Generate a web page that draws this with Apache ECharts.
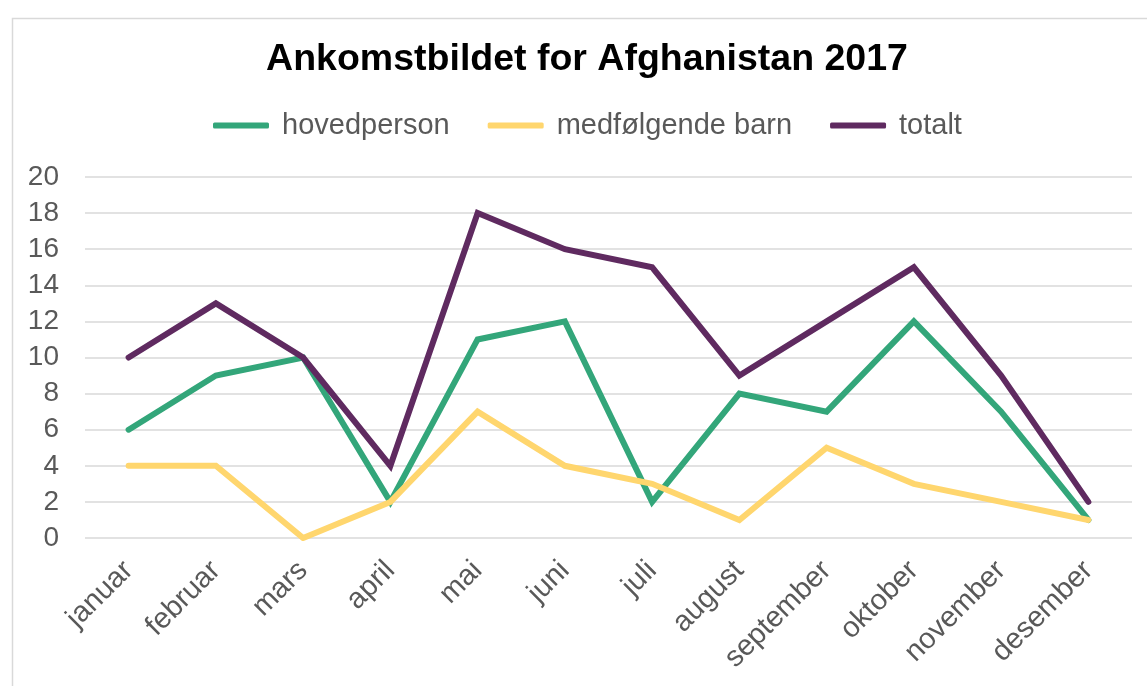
<!DOCTYPE html>
<html>
<head>
<meta charset="utf-8">
<script src="https://cdn.jsdelivr.net/npm/echarts@6/dist/echarts.min.js"></script>
<style>
html,body{margin:0;padding:0;background:#fff;}
#chart{width:1147px;height:686px;}
</style>
</head>
<body>
<div id="chart"></div>
<script>
var categories = ['januar','februar','mars','april','mai','juni','juli','august','september','oktober','november','desember'];
var hovedperson = [6, 9, 10, 2, 11, 12, 2, 8, 7, 12, 7, 1];
var medfolgendeBarn = [4, 4, 0, 2, 7, 4, 3, 1, 5, 3, 2, 1];
var totalt = [10, 13, 10, 4, 18, 16, 15, 9, 12, 15, 9, 2];
var seriesNames = ['hovedperson', 'medfølgende barn', 'totalt'];
var yTicks = {min: 0, max: 20, interval: 2};

var colors = ['#33a67a', '#ffd66e', '#5f2a60'];
var font = 'Liberation Sans, Arial, sans-serif';
var chart = echarts.init(document.getElementById('chart'), null, {renderer: 'canvas'});
function mk(name, data, i) {
  return {
    name: name, type: 'line', data: data, symbol: 'none',
    lineStyle: {width: 6, color: colors[i], cap: 'round', join: 'miter'},
    itemStyle: {color: colors[i]}
  };
}
chart.setOption({
  animation: false,
  color: colors,
  graphic: [{
    type: 'rect', left: 10, top: 16, silent: true,
    shape: {width: 1200, height: 700},
    style: {fill: 'none', stroke: '#d9d9d9', lineWidth: 1.5}
  }],
  title: {
    text: 'Ankomstbildet for Afghanistan 2017',
    left: 582, top: 36, textAlign: 'center',
    textStyle: {fontFamily: font, fontSize: 37.5, fontWeight: 'bold', color: '#000'}
  },
  legend: {
    data: seriesNames.map(function (n) { return {name: n, icon: 'roundRect'}; }),
    left: 213, top: 111, padding: 0,
    itemWidth: 56, itemHeight: 6, itemGap: 38,
    textStyle: {fontFamily: font, fontSize: 29, color: '#595959', padding: [0,0,0,8]}
  },
  grid: {left: 85, right: 15, top: 177, bottom: 148, containLabel: false},
  xAxis: {
    type: 'category', data: categories, boundaryGap: true,
    axisLine: {show: false}, axisTick: {show: false},
    axisLabel: {rotate: 45, fontFamily: font, fontSize: 29, color: '#595959', margin: 28, interval: 0}
  },
  yAxis: {
    type: 'value', min: yTicks.min, max: yTicks.max, interval: yTicks.interval,
    axisLine: {show: false}, axisTick: {show: false},
    axisLabel: {fontFamily: font, fontSize: 28, color: '#595959', margin: 26},
    splitLine: {lineStyle: {color: '#d9d9d9', width: 1.5}}
  },
  series: [
    mk(seriesNames[0], hovedperson, 0),
    mk(seriesNames[1], medfolgendeBarn, 1),
    mk(seriesNames[2], totalt, 2)
  ]
});
</script>
</body>
</html>
